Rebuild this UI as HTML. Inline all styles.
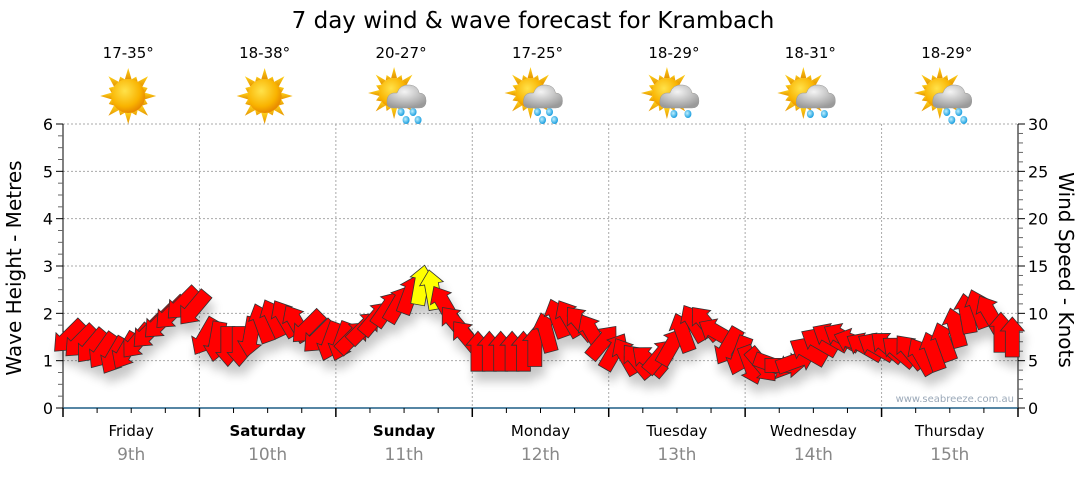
<!DOCTYPE html>
<html><head><meta charset="utf-8">
<style>
body{margin:0;background:#fff;}
svg text{font-family:"DejaVu Sans","Liberation Sans",sans-serif;}
</style></head>
<body>
<svg id="chart" width="1080" height="475" viewBox="0 0 1080 475" xmlns="http://www.w3.org/2000/svg">
<defs>
<radialGradient id="sunG" cx="40%" cy="35%" r="65%"><stop offset="0" stop-color="#ffe24a"/><stop offset="0.7" stop-color="#f9b300"/><stop offset="1" stop-color="#e88a00"/></radialGradient>
<linearGradient id="rayG" x1="0" y1="0" x2="0" y2="1"><stop offset="0" stop-color="#ffd21a"/><stop offset="1" stop-color="#e59400"/></linearGradient>
<radialGradient id="cloudG" cx="45%" cy="30%" r="70%"><stop offset="0" stop-color="#f4f4f4"/><stop offset="1" stop-color="#9a9a9a"/></radialGradient>
<radialGradient id="dropG" cx="40%" cy="40%" r="60%"><stop offset="0" stop-color="#bff0ff"/><stop offset="1" stop-color="#1b9fe0"/></radialGradient>
<filter id="shadow" x="-30%" y="-30%" width="160%" height="180%"><feGaussianBlur in="SourceAlpha" stdDeviation="5"/><feOffset dx="3" dy="10"/><feComponentTransfer><feFuncA type="linear" slope="0.22"/></feComponentTransfer><feMerge><feMergeNode/><feMergeNode in="SourceGraphic"/></feMerge></filter>
</defs>
<text x="533" y="28" font-size="23" text-anchor="middle" fill="#000">7 day wind &amp; wave forecast for Krambach</text>
<g id="grid"></g>
<g id="axes"></g>
<g id="weather"></g>
<g id="arrows" filter="url(#shadow)"></g>
<text transform="translate(21,268) rotate(-90)" font-size="20" text-anchor="middle">Wave Height - Metres</text>
<text transform="translate(1059,270) rotate(90)" font-size="20" text-anchor="middle">Wind Speed - Knots</text>
<text x="1014" y="402" font-size="10" text-anchor="end" fill="#9aa8b8">www.seabreeze.com.au</text>
</svg>
<script>
const days = ["Friday","Saturday","Sunday","Monday","Tuesday","Wednesday","Thursday"];
const dates = ["9th","10th","11th","12th","13th","14th","15th"];
const boldDays = [false,true,true,false,false,false,false];
const temps = ["17-35°","18-38°","20-27°","17-25°","18-29°","18-31°","18-29°"];
const icons = ["sun","sun","rain","rain","cloudrain","cloudrain","rain"];
const waveTicks = [0,1,2,3,4,5,6];
const windTicks = [0,5,10,15,20,25,30];
const windSpeed = [
 7.5,7,6.5,6,5.5,6,7,8,9,10,11,10.5,
 7.5,7,6.5,6.5,7.5,9,9.5,9.5,9,8.5,7.5,7,
 7,7.5,8.5,9.5,10.5,11,12,13,12.5,11,9,7.5,
 6,6,6,6,6,6.5,8,9.5,9.5,9,8,7,
 6,5.5,5,5,5.5,6.5,8,9,9,8,6.5,5.5,
 4.5,4.5,4.5,4.5,5,6,7,7.5,7.5,7,6.5,6.5,
 6.5,6,6,5.5,6,7,8.5,10,10.5,10,8,7.5
];
const windDir = [
 225,225,220,215,210,210,220,225,225,225,225,220,
 210,190,180,180,190,340,335,330,330,225,225,200,
 200,45,45,40,35,30,20,10,350,330,320,320,
 0,0,0,0,0,0,345,340,330,320,330,40,
 30,330,320,310,40,30,340,330,320,300,210,200,
 160,140,110,90,70,300,300,300,300,290,300,300,
 310,310,320,330,340,340,345,350,340,330,0,0
];
const NS="http://www.w3.org/2000/svg";
const X0=63,X1=1018,Y0=408,Y6=124;
const dayW=(X1-X0)/7;
function yWave(v){return Y0-(v/6)*(Y0-Y6);}
function yWind(v){return Y0-(v/30)*(Y0-Y6);}
function xTime(i){return X0+(i+0.5)*(X1-X0)/windSpeed.length;}
function mk(tag,attrs,parent){const e=document.createElementNS(NS,tag);for(const k in attrs)e.setAttribute(k,attrs[k]);parent.appendChild(e);return e;}
const grid=document.getElementById('grid'),axes=document.getElementById('axes'),weather=document.getElementById('weather'),arrows=document.getElementById('arrows');
waveTicks.forEach(v=>{if(v>0){const l=mk('line',{x1:X0,x2:X1,y1:yWave(v),y2:yWave(v),stroke:'#aaa','stroke-dasharray':'2,2'},grid);

}});
for(let d=1;d<7;d++){const l=mk('line',{x1:X0+d*dayW,x2:X0+d*dayW,y1:Y6,y2:Y0,stroke:'#aaa','stroke-dasharray':'2,2'},grid);

}
mk('line',{x1:X0,x2:X0,y1:Y6,y2:Y0,stroke:'#000'},axes);
for(let k=0;k<=24;k++){const y=yWave(k*0.25);mk('line',{x1:k%4==0?X0-7:X0-5,x2:X0,y1:y,y2:y,stroke:k%4==0?'#000':'#666'},axes);}
waveTicks.forEach(v=>{const t=mk('text',{x:X0-10,y:yWave(v)+6,'font-size':16,'text-anchor':'end'},axes);t.textContent=v;

});
mk('line',{x1:X1,x2:X1,y1:Y6,y2:Y0,stroke:'#000'},axes);
for(let k=0;k<=30;k++){const y=yWind(k);mk('line',{x1:X1,x2:k%5==0?X1+7:X1+5,y1:y,y2:y,stroke:k%5==0?'#000':'#666'},axes);}
windTicks.forEach(v=>{const t=mk('text',{x:X1+10,y:yWind(v)+6,'font-size':16},axes);t.textContent=v;

});
mk('line',{x1:X0,x2:X1,y1:Y0,y2:Y0,stroke:'#1f5f86','stroke-width':1.5},axes);
for(let k=0;k<=28;k++){const x=X0+k*dayW/4;mk('line',{x1:x,x2:x,y1:Y0,y2:k%4==0?Y0+9:Y0+5,stroke:'#000','stroke-width':k%4==0?1.5:1},axes);}
days.forEach((d,i)=>{const cx=X0+(i+0.5)*dayW;
const t=mk('text',{x:cx,y:436,'font-size':15,'text-anchor':'middle','font-weight':boldDays[i]?'bold':'normal'},axes);t.textContent=d;


const t2=mk('text',{x:cx,y:460,'font-size':17,'text-anchor':'middle',fill:'#888'},axes);t2.textContent=dates[i];


const t3=mk('text',{x:cx-3,y:58,'font-size':15,'text-anchor':'middle'},weather);t3.textContent=temps[i];


const g=mk('g',{transform:`translate(${cx-3},96)`},weather);


let sx=0,sy=0,sr=17,rl=28;
if(icons[i]!=='sun'){sx=-7;sy=-3;sr=15;rl=26;}
for(let a=0;a<16;a++){const ang=a*Math.PI/8;const L=a%2==0?rl:rl*0.75;const w=0.2;
const p=[[sx+Math.cos(ang)*L,sy+Math.sin(ang)*L],[sx+Math.cos(ang+w)*sr,sy+Math.sin(ang+w)*sr],[sx+Math.cos(ang-w)*sr,sy+Math.sin(ang-w)*sr]];
mk('polygon',{points:p.map(q=>q.join(',')).join(' '),fill:'url(#rayG)'},g);}
mk('circle',{cx:sx,cy:sy,r:sr,fill:'url(#sunG)'},g);
if(icons[i]!=='sun'){
const drops=icons[i]==='rain'?[[0,16],[12,16],[5,24],[17,24]]:[[0,18],[14,18]];
drops.forEach(p=>mk('ellipse',{cx:p[0],cy:p[1],rx:3.5,ry:4,fill:'url(#dropG)'},g));
mk('path',{d:'M-8,12 Q-15,12 -14,4 Q-13,-4 -4,-3 Q-1,-12 9,-11 Q17,-10 18,-3 Q25,-3 25,5 Q25,12 18,12 Z',fill:'url(#cloudG)',stroke:'#999','stroke-width':0.5},g);}
});
windSpeed.forEach((s,i)=>{
const x=xTime(i),y=yWind(s);
const col=s>12?'#ffff00':'#ff0000';
const p=mk('polygon',{points:'-7,20 7,20 7,-6 12,-6 0,-20 -12,-6 -7,-6',fill:col,stroke:'#333','stroke-width':0.8,transform:`translate(${x},${y}) rotate(${windDir[i]})`},arrows);


});
</script>
</body></html>
